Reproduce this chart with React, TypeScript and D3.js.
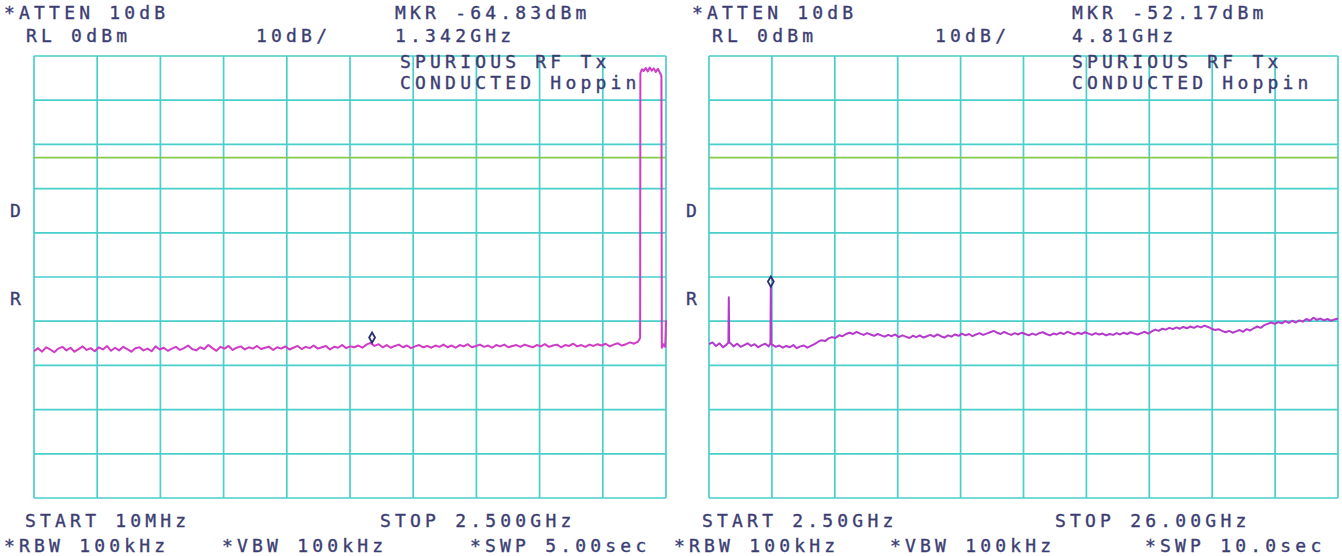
import React, { useEffect, useRef } from "react";
import * as d3 from "d3";

const width = 1342;
const height = 556;

// analyzer settings
const refLevel = 0;
const dbPerDiv = 10;
const divisions = 10;
const limitLevel = -23;

// left sweep: 10 MHz .. 2.5 GHz
const leftStart = 0.01;
const leftStop = 2.5;
const leftNoiseStop = 2.39;
const leftNoise = [
  -66.8, -66.1, -66.9, -65.9, -66.4, -67.0, -66.2, -65.8, -66.6, -66.0, -66.9, -66.3, -65.7, -66.5, -66.1, -66.8, -65.9, -66.4, -65.6, -66.7,
  -66.0, -66.6, -65.8, -66.3, -66.9, -66.1, -65.9, -66.6, -66.2, -66.8, -65.7, -66.4, -66.0, -66.7, -66.2, -65.8, -66.5, -66.1, -65.5, -66.3,
  -66.6, -65.9, -66.3, -65.4, -66.1, -66.7, -65.8, -66.2, -65.6, -66.5, -66.0, -65.7, -66.4, -65.9, -66.2, -65.6, -66.3, -66.0, -65.8, -66.5,
  -65.9, -66.2, -65.7, -66.4, -66.0, -65.6, -66.3, -65.8, -66.1, -65.5, -66.2, -65.9, -65.6, -66.4, -65.8, -66.0, -65.4, -66.1, -65.7, -65.9,
  -65.5, -66.0, -65.3, -64.9, -65.6, -65.2, -65.9, -65.4, -66.0, -65.6, -65.3, -65.9, -65.5, -66.1, -65.7, -65.4, -65.9, -65.6, -66.0, -65.5,
  -65.8, -65.3, -65.9, -65.5, -66.0, -65.4, -65.7, -65.2, -65.9, -65.6, -65.3, -65.8, -65.5, -66.0, -65.4, -65.7, -65.3, -65.9, -65.6, -65.4,
  -65.8, -65.3, -65.6, -65.9, -65.4, -65.7, -65.2, -65.8, -65.5, -65.3, -65.9, -65.4, -65.6, -65.1, -65.7, -65.4, -65.8, -65.3, -65.6, -65.2,
  -65.5, -65.1, -65.7, -65.3, -65.0, -65.5, -65.2, -64.8, -65.1, -64.6,
];
// hopping band 2.400 - 2.4835 GHz, [GHz, dBm]
const leftCarrier: [number, number][] = [
  [2.393, -64.3], [2.398, -63.8], [2.399, -3.9], [2.405, -3.0], [2.412, -3.4],
  [2.42, -2.7], [2.428, -3.5], [2.436, -2.6], [2.444, -3.3], [2.452, -2.8],
  [2.46, -3.6], [2.468, -2.9], [2.476, -3.8], [2.482, -4.5], [2.4835, -66.0],
  [2.49, -65.2], [2.497, -65.8], [2.5, -59.8],
];
const leftMarker = { f: 1.342, dbm: -64.83 };

// right sweep: 2.5 .. 26 GHz
const rightStart = 2.5;
const rightStop = 26;
const rightNoise = [
  -65.2, -64.8, -65.6, -65.0, -65.9, -65.3, -64.9, -65.7, -65.1, -65.8, -65.4, -65.0, -65.6, -65.2, -65.9, -65.4, -65.1, -65.7, -65.3, -65.8,
  -65.5, -66.0, -65.6, -65.9, -65.4, -66.1, -65.7, -65.5, -66.0, -65.6, -65.2, -64.7, -64.3, -64.5, -63.9, -63.6, -63.8, -63.2, -63.4, -62.9,
  -62.6, -62.9, -62.4, -62.8, -63.1, -62.7, -63.0, -63.3, -62.9, -63.2, -63.5, -63.1, -63.4, -63.0, -63.6, -63.2, -63.5, -63.8, -63.3, -63.6,
  -63.2, -63.7, -63.4, -63.1, -63.5, -63.0, -63.4, -63.7, -63.2, -63.5, -63.0, -63.3, -62.8, -63.2, -62.9, -63.4, -63.0, -62.7, -63.1, -62.8,
  -62.5, -62.2, -62.6, -62.9, -62.4, -62.8, -63.1, -62.7, -63.0, -62.6, -62.9, -63.2, -62.8, -63.1, -62.7, -62.5, -62.9, -63.2, -62.8, -63.0,
  -62.6, -62.9, -62.4, -62.7, -63.0, -62.6, -62.9, -62.5, -62.8, -63.1, -62.7, -63.0, -62.8, -63.2, -62.9, -63.1, -62.7, -63.0, -62.6, -62.9,
  -62.5, -62.8, -63.0, -62.7, -62.4, -62.8, -62.3, -61.9, -62.2, -61.7, -61.9, -61.5, -61.8, -61.4, -61.7, -61.3, -61.6, -61.2, -61.5, -61.1,
  -61.4, -61.0, -61.3, -61.7, -62.0, -61.8, -62.2, -62.5, -62.2, -62.6, -62.3, -62.0, -62.4, -61.8, -62.1, -61.6, -61.2, -61.5, -60.9, -60.6,
  -60.3, -60.6, -60.2, -60.5, -60.0, -60.4, -59.9, -60.3, -59.8, -60.1, -59.5, -59.9, -59.2, -59.7, -59.4, -59.8, -59.5, -59.9, -59.6, -59.4,
];
const rightSpurs: [number, number][] = [
  [3.225, -64.8], [3.24, -54.6], [3.255, -64.9],
  [4.795, -65.0], [4.81, -52.17], [4.825, -65.2],
];
const rightMarker = { f: 4.81, dbm: -52.17 };

const leftHeader = ["*ATTEN 10dB", "RL 0dBm", "10dB/", "MKR -64.83dBm", "1.342GHz", "SPURIOUS RF Tx", "CONDUCTED Hoppin"];
const leftFooter = ["START 10MHz", "STOP 2.500GHz", "*RBW 100kHz", "*VBW 100kHz", "*SWP 5.00sec"];
const rightHeader = ["*ATTEN 10dB", "RL 0dBm", "10dB/", "MKR -52.17dBm", "4.81GHz", "SPURIOUS RF Tx", "CONDUCTED Hoppin"];
const rightFooter = ["START 2.50GHz", "STOP 26.00GHz", "*RBW 100kHz", "*VBW 100kHz", "*SWP 10.0sec"];
const sideLabels = ["D", "R"];

const gridColor = "#48cfcb";
const textColor = "#3b3d72";
const font = "'DejaVu Sans Mono', monospace";

type Panel = {
  x0: number;
  x1: number;
  start: number;
  stop: number;
  trace: [number, number][];
  marker: { f: number; dbm: number };
  header: string[];
  footer: string[];
  headerX: number[];
  footerX: number[];
  sideX: number;
  traceColor: string;
};

const App: React.FC = () => {
  const svgRef = useRef<SVGSVGElement>(null);
  const top = 56;
  const bottom = 498;

  useEffect(() => {
    if (!svgRef.current) return;
    const svg = d3.select(svgRef.current);
    svg.selectAll("*").remove();

    const leftStep = (leftNoiseStop - leftStart) / (leftNoise.length - 1);
    const leftTrace: [number, number][] = leftNoise
      .map((v, i) => [leftStart + i * leftStep, v] as [number, number])
      .concat(leftCarrier);

    const rightStep = (rightStop - rightStart) / (rightNoise.length - 1);
    const rightTrace: [number, number][] = rightNoise
      .map((v, i) => [rightStart + i * rightStep, v] as [number, number])
      .concat(rightSpurs)
      .sort((a, b) => a[0] - b[0]);

    const panels: Panel[] = [
      {
        x0: 34, x1: 666, start: leftStart, stop: leftStop,
        trace: leftTrace, marker: leftMarker,
        header: leftHeader, footer: leftFooter,
        headerX: [4, 26, 256, 395, 395, 400, 400],
        footerX: [25, 380, 4, 222, 470],
        sideX: 10,
        traceColor: "#cf3cc6",
      },
      {
        x0: 709, x1: 1338, start: rightStart, stop: rightStop,
        trace: rightTrace, marker: rightMarker,
        header: rightHeader, footer: rightFooter,
        headerX: [692, 712, 935, 1072, 1072, 1072, 1072],
        footerX: [702, 1055, 674, 890, 1145],
        sideX: 686,
        traceColor: "#b43acb",
      },
    ];
    const headerY = [19, 42, 42, 19, 42, 68, 89];
    const footerY = [527, 527, 552, 552, 552];

    const yScale = d3
      .scaleLinear()
      .domain([refLevel - dbPerDiv * divisions, refLevel])
      .range([bottom, top]);

    panels.forEach((p) => {
      const xScale = d3.scaleLinear().domain([p.start, p.stop]).range([p.x0, p.x1]);
      const g = svg.append("g");

      // graticule
      const xDivs = d3.range(divisions + 1).map((i) => p.start + (i * (p.stop - p.start)) / divisions);
      const yDivs = d3.range(divisions + 1).map((i) => refLevel - i * dbPerDiv);

      g.selectAll("line.v")
        .data(xDivs)
        .enter()
        .append("line")
        .attr("x1", (d) => xScale(d))
        .attr("x2", (d) => xScale(d))
        .attr("y1", top)
        .attr("y2", bottom)
        .attr("stroke", gridColor)
        .attr("stroke-width", 1.7);

      g.selectAll("line.h")
        .data(yDivs)
        .enter()
        .append("line")
        .attr("x1", p.x0)
        .attr("x2", p.x1)
        .attr("y1", (d) => yScale(d))
        .attr("y2", (d) => yScale(d))
        .attr("stroke", gridColor)
        .attr("stroke-width", 1.7);

      // display line
      g.append("line")
        .attr("x1", p.x0)
        .attr("x2", p.x1)
        .attr("y1", yScale(limitLevel))
        .attr("y2", yScale(limitLevel))
        .attr("stroke", "#86c94a")
        .attr("stroke-width", 1.7);

      // trace
      const line = d3
        .line<[number, number]>()
        .x((d) => xScale(d[0]))
        .y((d) => yScale(d[1]));

      g.append("path")
        .attr("d", line(p.trace) || "")
        .attr("fill", "none")
        .attr("stroke", p.traceColor)
        .attr("stroke-width", 2)
        .attr("stroke-linejoin", "round");

      // marker
      g.append("path")
        .attr("d", d3.symbol().type(d3.symbolDiamond).size(30)())
        .attr("transform", `translate(${xScale(p.marker.f)},${yScale(p.marker.dbm) - 5})`)
        .attr("fill", "none")
        .attr("stroke", "#2c2e70")
        .attr("stroke-width", 1.8);

      // annotations
      const text = (s: string, x: number, y: number) =>
        g.append("text")
          .attr("x", x)
          .attr("y", y)
          .attr("fill", textColor)
          .attr("stroke", textColor)
          .attr("stroke-width", 0.35)
          .attr("font-family", font)
          .attr("font-size", "18px")
          .attr("letter-spacing", "4.2px")
          .text(s);

      p.header.forEach((s, i) => text(s, p.headerX[i], headerY[i]));
      p.footer.forEach((s, i) => text(s, p.footerX[i], footerY[i]));
      sideLabels.forEach((s, i) =>
        text(s, p.sideX, yScale(refLevel - (3.5 + 2 * i) * dbPerDiv) + 6)
      );
    });
  }, []);

  return (
    <svg
      ref={svgRef}
      width={width}
      height={height}
      style={{ position: "absolute", left: 0, top: 0, background: "#ffffff" }}
    />
  );
};

export default App;
